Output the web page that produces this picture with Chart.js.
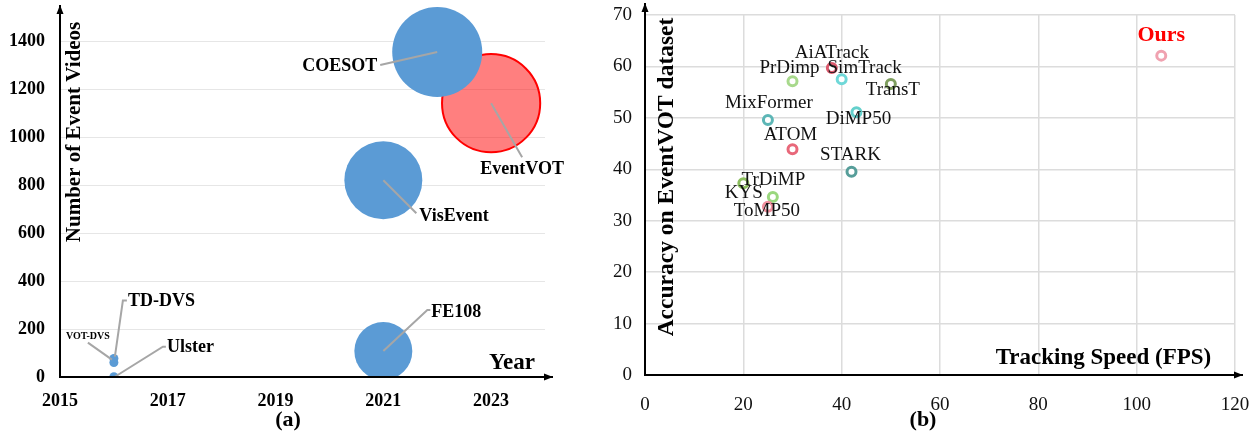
<!DOCTYPE html>
<html><head><meta charset="utf-8">
<script src="https://cdn.jsdelivr.net/npm/chart.js@4.4.0/dist/chart.umd.min.js"></script>
<style>
html,body{margin:0;padding:0;background:#fff;}
#wrap{position:relative;width:1258px;height:438px;overflow:hidden;background:#fff;}
#ca{position:absolute;left:0;top:0;}
#cb{position:absolute;left:600px;top:0;}
</style></head><body>
<div id="wrap"><canvas id="ca" width="600" height="438"></canvas><canvas id="cb" width="658" height="438"></canvas></div>
<script>
// ---------- (a) datasets ----------
const datasetNames = ['Ulster', 'VOT-DVS', 'TD-DVS', 'FE108', 'VisEvent', 'COESOT', 'EventVOT'];
const datasetYears = [2016, 2016, 2016, 2021, 2021, 2022, 2023];
const datasetVideos = [1, 60, 77, 108, 820, 1354, 1141];
const datasetBubbleSize = [1, 1, 1, 41.5, 75, 100, 119];
const yearTicks = [2015, 2017, 2019, 2021, 2023];
const videoTicks = [0, 200, 400, 600, 800, 1000, 1200, 1400];

// ---------- (b) trackers ----------
const trackerNames = ['AiATrack', 'SimTrack', 'PrDimp', 'TransT', 'DiMP50', 'MixFormer', 'ATOM', 'STARK', 'TrDiMP', 'KYS', 'ToMP50', 'Ours'];
const trackerFPS = [38, 40, 30, 50, 43, 25, 30, 42, 20, 26, 25, 105];
const trackerAcc = [59.7, 57.5, 57.1, 56.6, 51.1, 49.6, 43.9, 39.5, 37.3, 34.6, 32.7, 62.1];
const fpsTicks = [0, 20, 40, 60, 80, 100, 120];
const accTicks = [0, 10, 20, 30, 40, 50, 60, 70];

const SERIF = '"Liberation Serif","Times New Roman",serif';

function arrowLine(ctx, x1, y1, x2, y2) {
  ctx.beginPath(); ctx.moveTo(x1, y1); ctx.lineTo(x2, y2); ctx.stroke();
  const a = Math.atan2(y2 - y1, x2 - x1), L = 9, W = 3.5;
  ctx.beginPath();
  ctx.moveTo(x2, y2);
  ctx.lineTo(x2 - L * Math.cos(a) + W * Math.sin(a), y2 - L * Math.sin(a) - W * Math.cos(a));
  ctx.lineTo(x2 - L * Math.cos(a) - W * Math.sin(a), y2 - L * Math.sin(a) + W * Math.cos(a));
  ctx.closePath(); ctx.fill();
}
function fixFit(size, isX) {
  return s => {
    if (isX) s.height = size; else s.width = size;
    s.paddingTop = 0; s.paddingBottom = 0; s.paddingLeft = 0; s.paddingRight = 0;
  };
}

// ---------- chart (a) ----------
const bubbleScale = 4.5;
const blueIdx = datasetNames.map((n, i) => i).filter(i => datasetNames[i] !== 'EventVOT');
const redIdx = datasetNames.map((n, i) => i).filter(i => datasetNames[i] === 'EventVOT');
const toBubble = i => ({ x: datasetYears[i], y: datasetVideos[i], r: bubbleScale * Math.sqrt(datasetBubbleSize[i]) });

const labelsA = {
  'COESOT':   { font: 'bold 18px ' + SERIF, align: 'right', dx: -60, dy: 14, line: [[0, 0], [-57, 13]] },
  'EventVOT': { font: 'bold 18px ' + SERIF, align: 'center', dx: 31, dy: 66, line: [[0, 0], [31, 54]] },
  'VisEvent': { font: 'bold 18px ' + SERIF, align: 'left', dx: 36, dy: 36, line: [[0, 0], [33, 33]] },
  'FE108':    { font: 'bold 18px ' + SERIF, align: 'left', dx: 48, dy: -39, line: [[0, 0], [44, -41], [47, -41]] },
  'TD-DVS':   { font: 'bold 18px ' + SERIF, align: 'left', dx: 14, dy: -57, line: [[1, -2], [9, -58], [13, -58]] },
  'VOT-DVS':  { font: 'bold 10px ' + SERIF, align: 'center', dx: -26, dy: -26, line: [[-2, -3], [-26, -20]] },
  'Ulster':   { font: 'bold 18px ' + SERIF, align: 'left', dx: 53, dy: -29, line: [[1, 0], [49, -30], [52, -30]] }
};

const pluginA = {
  id: 'decorA',
  afterDatasetsDraw(chart) {
    const ctx = chart.ctx, xs = chart.scales.x, ys = chart.scales.y, ca = chart.chartArea;
    ctx.save();
    datasetNames.forEach((name, i) => {
      const L = labelsA[name]; if (!L) return;
      const cx = xs.getPixelForValue(datasetYears[i]), cy = ys.getPixelForValue(datasetVideos[i]);
      ctx.strokeStyle = '#a6a6a6'; ctx.lineWidth = 2;
      ctx.beginPath();
      L.line.forEach((p, k) => { k ? ctx.lineTo(cx + p[0], cy + p[1]) : ctx.moveTo(cx + p[0], cy + p[1]); });
      ctx.stroke();
      ctx.fillStyle = '#000'; ctx.font = L.font; ctx.textAlign = L.align; ctx.textBaseline = 'middle';
      ctx.fillText(name, cx + L.dx, cy + L.dy);
    });
    ctx.strokeStyle = '#000'; ctx.fillStyle = '#000'; ctx.lineWidth = 2;
    arrowLine(ctx, ca.left, ca.bottom + 1, ca.left, ca.top);
    arrowLine(ctx, ca.left - 1, ca.bottom, ca.right + 8, ca.bottom);
    ctx.fillStyle = '#000'; ctx.textBaseline = 'middle'; ctx.textAlign = 'center';
    ctx.font = 'bold 23px ' + SERIF;
    ctx.fillText('Year', 512, 363);
    ctx.font = 'bold 22px ' + SERIF;
    ctx.fillText('(a)', 288, 420);
    ctx.save();
    ctx.translate(75, 132); ctx.rotate(-Math.PI / 2);
    ctx.font = 'bold 21px ' + SERIF;
    ctx.fillText('Number of Event Videos', 0, 0);
    ctx.restore();
    ctx.restore();
  }
};

new Chart(document.getElementById('ca'), {
  type: 'bubble',
  data: {
    datasets: [
      { data: blueIdx.map(toBubble), backgroundColor: '#5b9bd5', borderColor: '#5b9bd5', borderWidth: 0 },
      { data: redIdx.map(toBubble), backgroundColor: 'rgba(255,0,0,0.5)', borderColor: '#ff0000', borderWidth: 2 }
    ]
  },
  options: {
    responsive: false, animation: false, events: [],
    plugins: { legend: { display: false }, tooltip: { enabled: false } },
    layout: { autoPadding: false, padding: { top: 5, right: 55, left: 0, bottom: 0 } },
    scales: {
      x: {
        type: 'linear', min: 2015, max: 2024,
        afterBuildTicks: s => { s.ticks = yearTicks.map(v => ({ value: v })); },
        afterFit: fixFit(61, true),
        ticks: { font: { family: SERIF, size: 18, weight: 'bold' }, color: '#000', padding: 6, callback: v => String(v) },
        grid: { display: false }, border: { display: false }
      },
      y: {
        type: 'linear', min: 0, max: 1550,
        afterBuildTicks: s => { s.ticks = videoTicks.map(v => ({ value: v })); },
        afterFit: fixFit(60, false),
        ticks: { font: { family: SERIF, size: 18, weight: 'bold' }, color: '#000', padding: 15, callback: v => String(v) },
        grid: { color: '#e6e6e6', lineWidth: 1, drawTicks: false }, border: { display: false }
      }
    }
  },
  plugins: [pluginA]
});

// ---------- chart (b) ----------
const trackerColors = ['#dc5a6e', '#6fd8d8', '#a8d98c', '#7e9e5e', '#64d0cc', '#5cb6b6', '#e8687a', '#579e9a', '#8cbf5e', '#9ad77e', '#f0909e', '#f0a2b0'];
const labelsB = {
  'AiATrack': [0, -15], 'SimTrack': [23, -11], 'PrDimp': [-3, -13], 'TransT': [2, 6],
  'DiMP50': [2, 7], 'MixFormer': [1, -17], 'ATOM': [-2, -14], 'STARK': [-1, -17],
  'TrDiMP': [30, -3], 'KYS': [-29, -4], 'ToMP50': [-1, 4], 'Ours': [0, -20]
};

const pluginB = {
  id: 'decorB',
  afterDraw(chart) {
    const ctx = chart.ctx, xs = chart.scales.x, ys = chart.scales.y, ca = chart.chartArea;
    ctx.save();
    ctx.strokeStyle = '#000'; ctx.fillStyle = '#000'; ctx.lineWidth = 2;
    arrowLine(ctx, ca.left, ca.bottom + 1, ca.left, 3);
    arrowLine(ctx, ca.left - 1, ca.bottom, ca.right + 8, ca.bottom);
    ctx.textBaseline = 'middle'; ctx.textAlign = 'center';
    trackerNames.forEach((name, i) => {
      const off = labelsB[name];
      const px = xs.getPixelForValue(trackerFPS[i]), py = ys.getPixelForValue(trackerAcc[i]);
      if (name === 'Ours') { ctx.font = 'bold 22px ' + SERIF; ctx.fillStyle = '#ff0000'; }
      else { ctx.font = '19px ' + SERIF; ctx.fillStyle = '#111'; }
      ctx.fillText(name, px + off[0], py + off[1]);
    });
    ctx.fillStyle = '#000';
    ctx.font = 'bold 23px ' + SERIF;
    ctx.fillText('Tracking Speed (FPS)', 503.5, 358);
    ctx.font = 'bold 22px ' + SERIF;
    ctx.fillText('(b)', 323, 420);
    ctx.save();
    ctx.translate(67, 177); ctx.rotate(-Math.PI / 2);
    ctx.font = 'bold 23.5px ' + SERIF;
    ctx.fillText('Accuracy on EventVOT dataset', 0, 0);
    ctx.restore();
    ctx.restore();
  }
};

new Chart(document.getElementById('cb'), {
  type: 'scatter',
  data: {
    datasets: [{
      data: trackerNames.map((n, i) => ({ x: trackerFPS[i], y: trackerAcc[i] })),
      pointBackgroundColor: '#fff', pointBorderColor: trackerColors,
      pointRadius: 4.5, pointBorderWidth: 3, showLine: false
    }]
  },
  options: {
    responsive: false, animation: false, events: [],
    plugins: { legend: { display: false }, tooltip: { enabled: false } },
    layout: { autoPadding: false, padding: { top: 15, right: 23, left: 0, bottom: 0 } },
    scales: {
      x: {
        type: 'linear', min: 0, max: 120,
        afterBuildTicks: s => { s.ticks = fpsTicks.map(v => ({ value: v })); },
        afterFit: fixFit(63, true),
        ticks: { font: { family: SERIF, size: 19 }, color: '#111', padding: 19 },
        grid: { color: '#dcdcdc', lineWidth: 1.5, drawTicks: false }, border: { display: false }
      },
      y: {
        type: 'linear', min: 0, max: 70,
        afterBuildTicks: s => { s.ticks = accTicks.map(v => ({ value: v })); },
        afterFit: fixFit(45, false),
        ticks: { font: { family: SERIF, size: 19 }, color: '#111', padding: 13 },
        grid: { color: '#dcdcdc', lineWidth: 1.5, drawTicks: false }, border: { display: false }
      }
    }
  },
  plugins: [pluginB]
});
</script>
</body></html>
